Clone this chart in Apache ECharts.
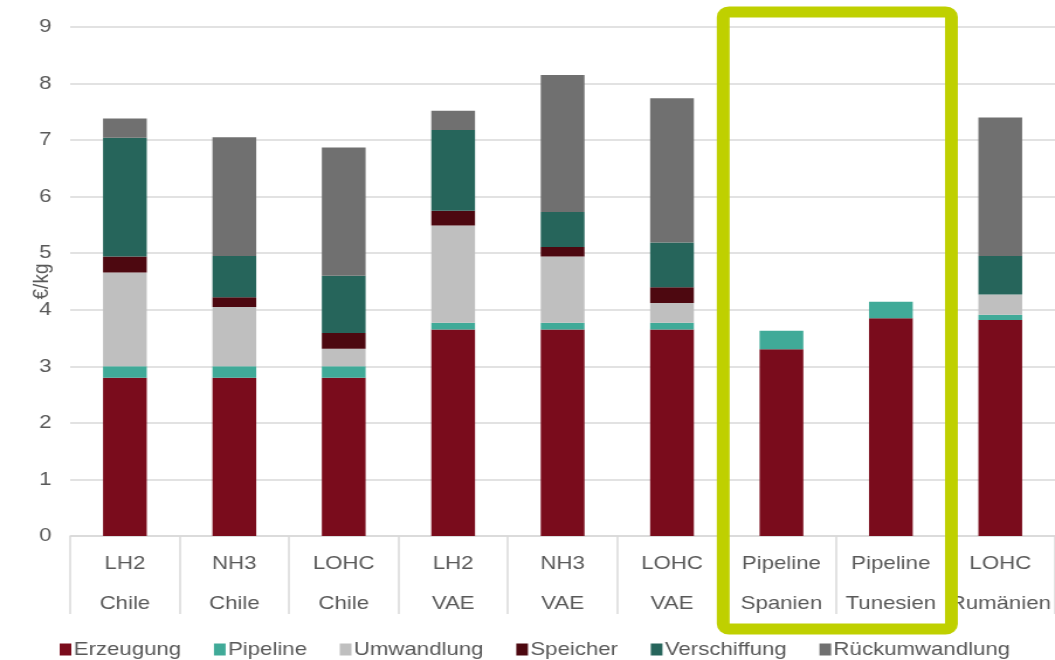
<!DOCTYPE html>
<html>
<head>
<meta charset="utf-8">
<script src="https://cdn.jsdelivr.net/npm/echarts@6/dist/echarts.min.js"></script>
<style>
  html, body { margin: 0; padding: 0; background: #ffffff; }
  #wrap { width: 1055px; height: 660px; overflow: hidden; }
  /* the chart is drawn a bit narrower and widened horizontally */
  #chart { width: 902px; height: 660px; transform: scaleX(1.1696); transform-origin: 0 0; }
</style>
</head>
<body>
<div id="wrap"><div id="chart"></div></div>
<script>
// Transport route (upper label row) and origin country (lower label row)
const routes = ['LH2', 'NH3', 'LOHC', 'LH2', 'NH3', 'LOHC', 'Pipeline', 'Pipeline', 'LOHC'];
const countries = ['Chile', 'Chile', 'Chile', 'VAE', 'VAE', 'VAE', 'Spanien', 'Tunesien', 'Rumänien'];

// Cost components in €/kg
const erzeugung     = [2.80, 2.80, 2.80, 3.65, 3.65, 3.65, 3.30, 3.85, 3.82];
const pipeline      = [0.20, 0.20, 0.20, 0.12, 0.12, 0.12, 0.33, 0.29, 0.09];
const umwandlung    = [1.66, 1.05, 0.31, 1.72, 1.17, 0.35, 0, 0, 0.36];
const speicher      = [0.28, 0.17, 0.28, 0.26, 0.17, 0.28, 0, 0, 0];
const verschiffung  = [2.10, 0.73, 1.01, 1.43, 0.62, 0.79, 0, 0, 0.68];
const rueckumwandl  = [0.34, 2.10, 2.27, 0.34, 2.42, 2.55, 0, 0, 2.45];

const yTicks = [0, 1, 2, 3, 4, 5, 6, 7, 8, 9];

const seriesDefs = [
  { name: 'Erzeugung', data: erzeugung, color: '#7a0c1c' },
  { name: 'Pipeline', data: pipeline, color: '#40aa98' },
  { name: 'Umwandlung', data: umwandlung, color: '#bfbfbf' },
  { name: 'Speicher', data: speicher, color: '#4d0810' },
  { name: 'Verschiffung', data: verschiffung, color: '#26655b' },
  { name: 'Rückumwandlung', data: rueckumwandl, color: '#707070' }
];

const FONT = '"Liberation Sans", Arial, sans-serif';
const TEXT = '#595959';
const categories = routes.map((r, i) => r + '\n' + countries[i]);

const chart = echarts.init(document.getElementById('chart'), null, { renderer: 'canvas' });

chart.setOption({
  animation: false,
  textStyle: { fontFamily: FONT },
  grid: { left: 60, right: 0, top: 27, bottom: 124, containLabel: false },
  legend: {
    left: 46,
    top: 635,
    itemWidth: 10,
    itemHeight: 12,
    itemGap: 28,
    icon: 'rect',
    textStyle: { fontFamily: FONT, fontSize: 19, color: TEXT, padding: [0, 0, 0, -3] },
    data: seriesDefs.map(s => s.name)
  },
  xAxis: {
    type: 'category',
    data: categories,
    axisLine: { show: true, lineStyle: { color: '#d9d9d9', width: 1.5 } },
    axisTick: { show: true, length: 78, interval: 0, lineStyle: { color: '#d9d9d9', width: 1.5 } },
    axisLabel: {
      interval: 0,
      margin: 8,
      fontFamily: FONT,
      fontSize: 19,
      lineHeight: 40,
      color: TEXT
    }
  },
  yAxis: {
    type: 'value',
    min: yTicks[0],
    max: yTicks[yTicks.length - 1],
    interval: 1,
    name: '€/kg',
    nameLocation: 'middle',
    nameRotate: 90,
    nameGap: 15,
    nameMoveOverlap: false,
    nameTextStyle: { fontFamily: FONT, fontSize: 19, color: TEXT },
    axisLine: { show: false },
    axisTick: { show: false },
    axisLabel: { margin: 16, fontFamily: FONT, fontSize: 19, color: TEXT },
    splitLine: { lineStyle: { color: '#d9d9d9', width: 1.5 } }
  },
  series: seriesDefs.map(s => ({
    name: s.name,
    type: 'bar',
    stack: 'kosten',
    barWidth: '40%',
    data: s.data,
    itemStyle: { color: s.color }
  }))
});

// Highlight frame around the two pipeline routes
const c6 = chart.convertToPixel({ xAxisIndex: 0 }, 6);
const c7 = chart.convertToPixel({ xAxisIndex: 0 }, 7);
const band = c7 - c6;
const boxLeft = c6 - band / 2 - 3;
const boxRight = c7 + band / 2 + 5;
chart.setOption({
  graphic: [{
    type: 'rect',
    z: 100,
    shape: { x: boxLeft, y: 12, width: boxRight - boxLeft, height: 617, r: 5 },
    style: { fill: 'none', stroke: '#bfd000', lineWidth: 11 }
  }]
});
</script>
</body>
</html>
